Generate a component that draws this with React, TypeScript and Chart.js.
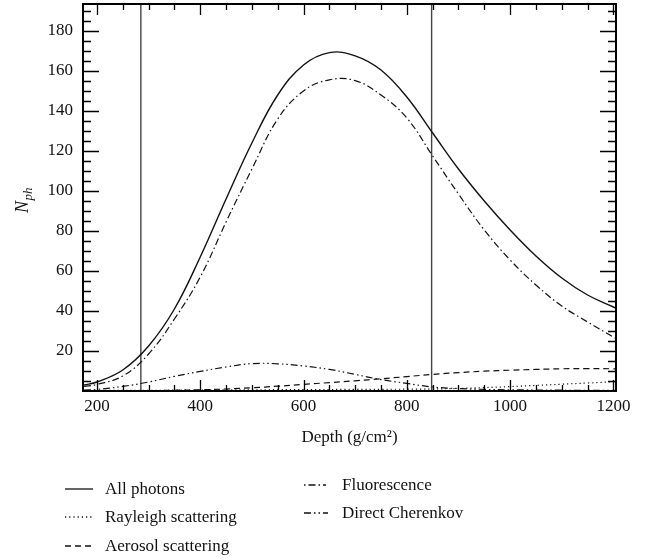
import { useEffect, useRef } from 'react';
import { Chart, registerables } from 'chart.js';

Chart.register(...registerables);

// ---- data ----
const DEPTH = [175, 200, 250, 300, 350, 400, 450, 500, 550, 600, 650, 700, 750, 800, 850, 900, 950, 1000, 1050, 1100, 1150, 1200, 1205];
const ALL_PHOTONS = [3, 4.5, 10.5, 22.5, 41, 67, 96, 124, 148, 163, 169.2, 167.6, 160.5, 147, 129, 111, 95, 80.5, 67.5, 56.5, 48, 42, 41.3];
const RAYLEIGH = [0.2, 0.25, 0.3, 0.35, 0.4, 0.5, 0.55, 0.6, 0.65, 0.7, 0.75, 0.8, 0.85, 0.9, 1, 1.3, 1.7, 2.2, 2.8, 3.4, 4, 4.6, 4.6];
const AEROSOL = [0, 0.1, 0.15, 0.2, 0.35, 0.6, 1, 1.6, 2.4, 3.3, 4.2, 5.1, 6.1, 7.2, 8.3, 9.2, 9.9, 10.4, 10.8, 11.1, 11.2, 11.1, 11];
const FLUORESCENCE = [2.3, 3.3, 7.5, 18.5, 36, 57, 84.5, 111, 136, 150, 155.6, 155.2, 148, 136.5, 117.5, 98.5, 80.5, 65.5, 53, 42.5, 34.5, 27, 26.3];
const CHERENKOV = [0.5, 0.8, 2.3, 4.5, 7.3, 9.8, 12, 13.7, 13.6, 12.5, 10.8, 8.3, 5.7, 3.8, 2, 1.2, 0.8, 0.6, 0.5, 0.4, 0.35, 0.3, 0.3];

const X_TICKS = [200, 400, 600, 800, 1000, 1200];
const Y_TICKS = [20, 40, 60, 80, 100, 120, 140, 160, 180];
const X_MINOR_STEP = 50;
const Y_MINOR_STEP = 5;
const X_MIN = 173;
const X_MAX = 1205;
const Y_MIN = 0;
const Y_MAX = 193.5;
const MARKER_DEPTHS = [285, 848];

const SERIES_LABELS = ['All photons', 'Rayleigh scattering', 'Aerosol scattering', 'Fluorescence', 'Direct Cherenkov'];

// ---- styles ----
const FONT = "'Liberation Serif', 'DejaVu Serif', serif";
const INK = '#111';
const DASHES: number[][] = [[], [1.2, 3], [6, 4], [7, 3, 1.5, 3], [7, 3, 1.5, 3, 1.5, 3]];
const WIDTHS = [1.4, 1.2, 1.2, 1.2, 1.2];
const SVG_DASH = ['', '1.2 3', '6 4', '1.5 3 7 3', '7 3 1.5 3 1.5 3'];
const LEGEND_POS = [
  { lx: 65, lw: 28, tx: 105, y: 489 },
  { lx: 65, lw: 28, tx: 105, y: 517 },
  { lx: 65, lw: 28, tx: 105, y: 546 },
  { lx: 304, lw: 22, tx: 342, y: 485 },
  { lx: 304, lw: 24, tx: 342, y: 513 },
];

const framePlugin = {
  id: 'frameTicks',
  beforeDatasetsDraw(chart: any) {
    const { ctx, chartArea } = chart;
    const xs = chart.scales.x;
    ctx.save();
    ctx.strokeStyle = '#444';
    ctx.lineWidth = 1.4;
    for (const d of MARKER_DEPTHS) {
      const px = xs.getPixelForValue(d);
      ctx.beginPath();
      ctx.moveTo(px, chartArea.top);
      ctx.lineTo(px, chartArea.bottom);
      ctx.stroke();
    }
    ctx.restore();
  },
  afterDraw(chart: any) {
    const { ctx, chartArea } = chart;
    const { left, right, top, bottom } = chartArea;
    const xs = chart.scales.x;
    const ys = chart.scales.y;
    ctx.save();
    ctx.strokeStyle = '#000';
    ctx.lineWidth = 1.3;
    // x ticks (bottom & top, inward)
    for (let v = Math.ceil(X_MIN / X_MINOR_STEP) * X_MINOR_STEP; v <= X_MAX; v += X_MINOR_STEP) {
      const px = Math.round(xs.getPixelForValue(v)) + 0.5;
      const len = X_TICKS.includes(v) ? 11 : 6;
      ctx.beginPath();
      ctx.moveTo(px, bottom);
      ctx.lineTo(px, bottom - len);
      ctx.moveTo(px, top);
      ctx.lineTo(px, top + len);
      ctx.stroke();
    }
    // y ticks (left & right, inward)
    for (let v = Math.ceil(Y_MIN / Y_MINOR_STEP) * Y_MINOR_STEP + Y_MINOR_STEP; v < Y_MAX; v += Y_MINOR_STEP) {
      const py = Math.round(ys.getPixelForValue(v)) + 0.5;
      const len = Y_TICKS.includes(v) ? 16 : 8;
      ctx.beginPath();
      ctx.moveTo(left, py);
      ctx.lineTo(left + len, py);
      ctx.moveTo(right, py);
      ctx.lineTo(right - len, py);
      ctx.stroke();
    }
    // frame
    ctx.lineWidth = 2;
    ctx.strokeRect(left, top, right - left, bottom - top);
    // y title N_ph
    ctx.fillStyle = INK;
    ctx.translate(28, 213);
    ctx.rotate(-Math.PI / 2);
    ctx.textBaseline = 'alphabetic';
    ctx.font = `italic 18px ${FONT}`;
    ctx.fillText('N', 0, 0);
    const w = ctx.measureText('N').width;
    ctx.font = `italic 13px ${FONT}`;
    ctx.fillText('ph', w + 0.5, 4);
    ctx.restore();
  },
};

export default function App() {
  const ref = useRef<HTMLCanvasElement | null>(null);

  useEffect(() => {
    if (!ref.current) return;
    const seriesValues = [ALL_PHOTONS, RAYLEIGH, AEROSOL, FLUORESCENCE, CHERENKOV];
    const chart = new Chart(ref.current, {
      type: 'line',
      data: {
        datasets: seriesValues.map((vals, i) => ({
          label: SERIES_LABELS[i],
          data: DEPTH.map((d, j) => ({ x: d, y: vals[j] })),
          borderColor: INK,
          borderWidth: WIDTHS[i],
          borderDash: DASHES[i],
          pointRadius: 0,
          fill: false,
          tension: 0.4,
        })),
      },
      options: {
        animation: false,
        responsive: false,
        maintainAspectRatio: false,
        layout: { padding: { left: 0, right: 30, top: 4, bottom: 109 } },
        plugins: { legend: { display: false }, tooltip: { enabled: false } },
        scales: {
          x: {
            type: 'linear',
            min: X_MIN,
            max: X_MAX,
            grid: { display: false, drawTicks: false },
            border: { display: false },
            afterBuildTicks: (s: any) => { s.ticks = X_TICKS.map((v) => ({ value: v })); },
            afterFit: (s: any) => { s.height = 60; s.paddingLeft = 0; s.paddingRight = 0; },
            ticks: {
              padding: 5,
              maxRotation: 0,
              autoSkip: false,
              color: INK,
              font: { family: FONT, size: 17 },
              callback: (v: any) => String(v),
            },
            title: {
              display: true,
              text: 'Depth (g/cm²)',
              color: INK,
              font: { family: FONT, size: 17 },
              padding: { top: 0, bottom: 3 },
            },
          },
          y: {
            type: 'linear',
            min: Y_MIN,
            max: Y_MAX,
            grid: { display: false, drawTicks: false },
            border: { display: false },
            afterBuildTicks: (s: any) => { s.ticks = Y_TICKS.map((v) => ({ value: v })); },
            afterFit: (s: any) => { s.width = 83; s.paddingTop = 0; s.paddingBottom = 0; },
            ticks: {
              padding: 10,
              autoSkip: false,
              color: INK,
              font: { family: FONT, size: 17 },
              callback: (v: any) => String(v),
            },
          },
        },
      },
      plugins: [framePlugin],
    });
    return () => chart.destroy();
  }, []);

  return (
    <div style={{ position: 'absolute', left: 0, top: 0, width: 646, height: 560, background: '#fff' }}>
      <canvas ref={ref} width={646} height={560} style={{ position: 'absolute', left: 0, top: 0, width: 646, height: 560 }} />
      {SERIES_LABELS.map((label, i) => {
        const p = LEGEND_POS[i];
        return (
          <div key={label}>
            <svg style={{ position: 'absolute', left: p.lx, top: p.y - 3 }} width={p.lw} height={6}>
              <line x1={0} y1={3} x2={p.lw} y2={3} stroke={INK} strokeWidth={1.3} strokeDasharray={SVG_DASH[i] || undefined} />
            </svg>
            <div style={{ position: 'absolute', left: p.tx, top: p.y - 12, height: 24, lineHeight: '24px', fontFamily: FONT, fontSize: 17, color: INK, whiteSpace: 'nowrap' }}>
              {label}
            </div>
          </div>
        );
      })}
    </div>
  );
}
